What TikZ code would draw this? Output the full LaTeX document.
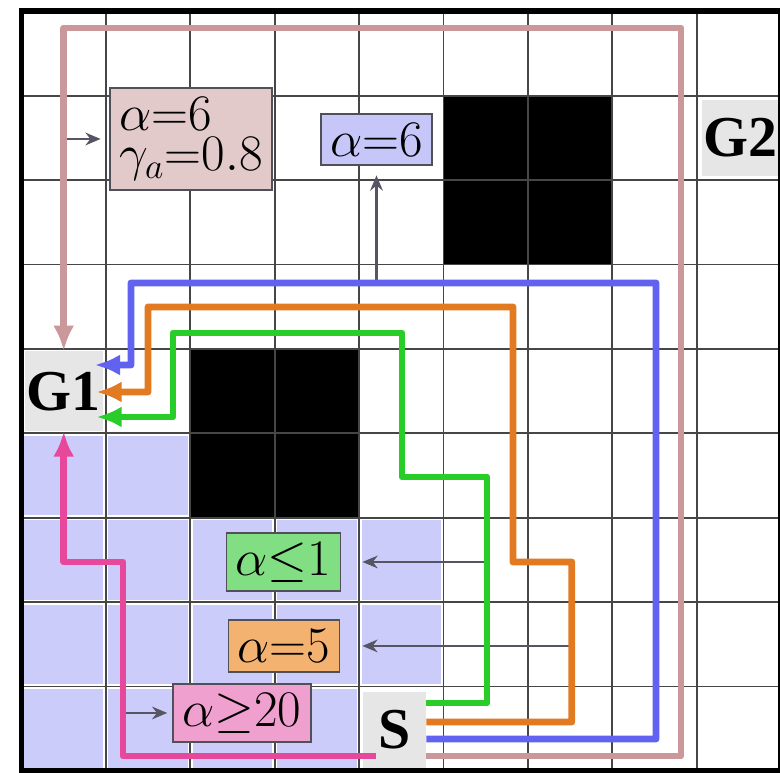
\documentclass[tikz,border=0pt]{standalone}
\usepackage{fontspec}
\newfontfamily\timesfam{Liberation Serif}
\usetikzlibrary{arrows.meta,calc}
\definecolor{cpink}{RGB}{232,72,156}
\definecolor{cgreen}{RGB}{40,205,40}
\definecolor{corange}{RGB}{226,122,34}
\definecolor{cblue}{RGB}{98,98,240}
\definecolor{crose}{RGB}{202,152,155}
\definecolor{frose}{RGB}{226,202,202}
\definecolor{fblue}{RGB}{198,198,248}
\definecolor{fgreen}{RGB}{130,222,130}
\definecolor{forange}{RGB}{244,178,112}
\definecolor{fpink}{RGB}{240,160,206}
\definecolor{lav}{RGB}{204,204,250}
\definecolor{nodegray}{RGB}{230,230,230}
\definecolor{gridcol}{RGB}{70,70,70}
\definecolor{boxline}{RGB}{80,80,90}
\definecolor{arrowgray}{RGB}{85,85,100}
\tikzset{
  route/.style={line width=2.3pt, line join=round, -{Latex[length=3mm,width=2.5mm]}},
  lab/.style={draw=boxline, line width=0.6pt, inner sep=3.1pt, font=\fontsize{16.5}{19}\selectfont},
  labarrow/.style={draw=arrowgray, line width=0.8pt, -{Stealth[length=1.8mm,width=1.5mm]}},
  goal/.style={fill=nodegray, inner sep=0pt, font=\timesfam\bfseries\fontsize{19.5}{22}\selectfont},
  lavcell/.style={fill=lav},
  obst/.style={fill=black}
}
\begin{document}
\begin{tikzpicture}[x=1cm,y=1cm]
\useasboundingbox (-0.255,-0.024) rectangle (8.987,9.135);
\fill[white] (-0.255,-0.024) rectangle (8.987,9.135);
% lavender cells
\foreach \cx/\cy in {0/0,0/1,0/2,0/3,1/0,1/1,1/2,1/3,2/0,2/1,2/2,3/0,3/1,3/2,4/1,4/2}
  \fill[lavcell] (\cx+0.03,\cy+0.03) rectangle (\cx+0.97,\cy+0.97);
% obstacles
\foreach \cx/\cy in {2/3,2/4,3/3,3/4,5/6,5/7,6/6,6/7}
  \fill[obst] (\cx,\cy) rectangle (\cx+1,\cy+1);
% goal and start nodes
\node[goal, minimum width=0.92cm, minimum height=0.94cm] (G1) at (0.5,4.5) {G1};
\node[goal, minimum width=0.92cm, minimum height=0.91cm] (G2) at (8.52,7.5) {G2};
\node[goal, minimum width=0.74cm, minimum height=0.9cm] (S) at (4.42,0.486) {S};
% grid
\draw[gridcol, line width=0.6pt] (0,0) grid (9,9);
\draw[black, line width=2pt] (0,0) rectangle (9,9);
% label boxes
\node[lab, fill=frose, minimum width=1.9cm, minimum height=1.185cm, align=left,
      font=\fontsize{16.5}{13.8}\selectfont] (rbox) at (2.008,7.488) {$\alpha{=}6$\\$\gamma_a{=}0.8$};
\node[lab, fill=fblue] (bbox) at (4.206,7.482) {$\alpha{=}6$};
\node[lab, fill=fgreen] (gbox) at (3.104,2.476) {$\alpha{\leq}1$};
\node[lab, fill=forange] (obox) at (3.11,1.481) {$\alpha{=}5$};
\node[lab, fill=fpink] (pbox) at (2.612,0.687) {$\alpha{\geq}20$};
% points on the routes where the label arrows start
\coordinate (rA) at (0.492,7.488);
\coordinate (bA) at (4.206,5.782);
\coordinate (gA) at (5.515,2.476);
\coordinate (oA) at (6.52,1.481);
\coordinate (pA) at (1.203,0.687);
% label arrows
\draw[labarrow, shorten <=0.03cm, shorten >=0.1cm] (rA) -- (rbox.west);
\draw[labarrow, shorten >=0.11cm] (bA) -- (bbox.south);
\draw[labarrow, shorten >=0.25cm] (gA) -- (gbox.east);
\draw[labarrow, shorten >=0.26cm] (oA) -- (obox.east);
\draw[labarrow, shorten >=0.06cm] (pA) -- (pbox.west);
% routes
\draw[route, crose] ([yshift=-0.308cm]S.east) -| (7.814,8.803) -| (G1.north);
\draw[route, cblue] ([yshift=-0.107cm]S.east) -| (7.518,5.782) -| (1.297,4.81) -- ($(G1.east)+(-0.1,0.31)$);
\draw[route, corange] ([yshift=0.094cm]S.east) -| (6.52,2.476) -| (5.823,5.498) -| (1.499,4.49) -- ($(G1.east)+(-0.08,-0.01)$);
\draw[route, cgreen] ([yshift=0.32cm]S.east) -| (5.515,3.483) -| (4.508,5.19) -| (1.795,4.194) -- ($(G1.east)+(-0.08,-0.306)$);
\draw[route, cpink] ($(S.west)+(0.16,-0.308)$) -| (1.203,2.476) -| (G1.south);
\end{tikzpicture}
\end{document}
